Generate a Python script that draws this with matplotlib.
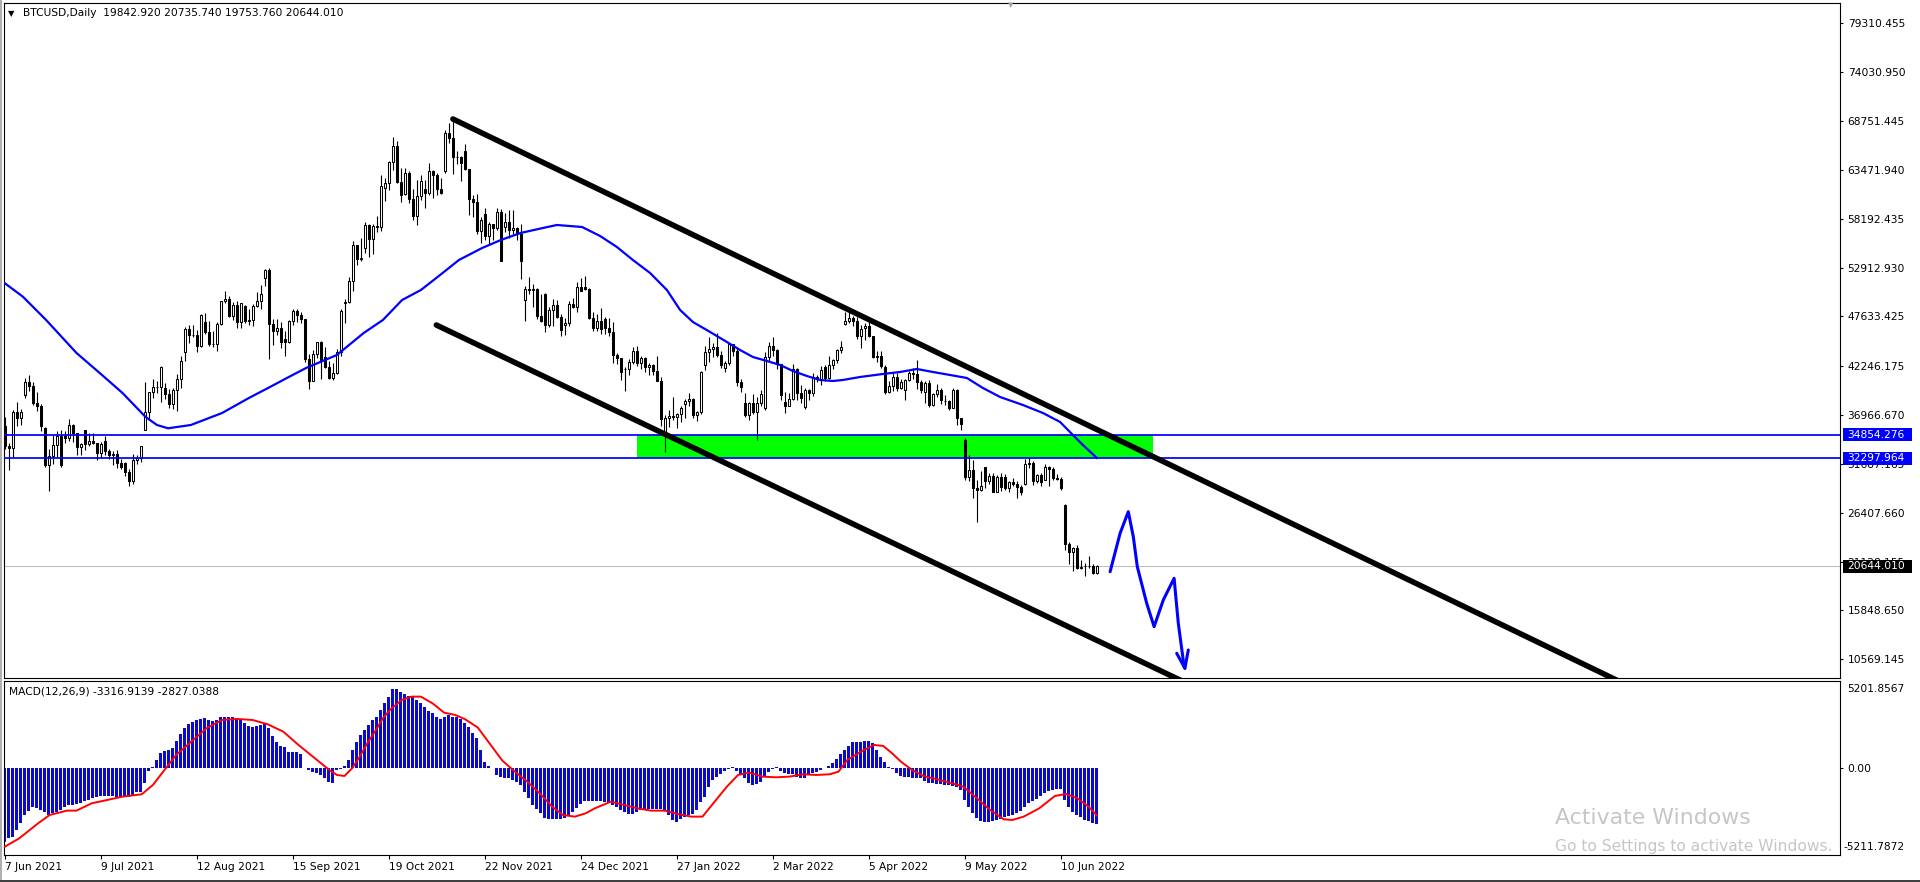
import numpy as np
import matplotlib
matplotlib.use("Agg")
import matplotlib.pyplot as plt
from matplotlib.patches import Rectangle

plt.rcParams['font.family'] = ['DejaVu Sans']

# ---------------- DATA (BTCUSD daily, weekday bars, 7 Jun 2021 .. 23 Jun 2022), prices in thousands
open_k = [
35.8,33.6,33.4,37.3,36.7, 39.1,40.5,40.1,38.3,38.0, 35.6,31.6,32.5,33.7,34.7, 34.7,34.5,35.9,35.0,33.5,
35.3,33.8,34.2,33.9,32.9, 34.2,33.1,32.7,32.8,31.8, 31.8,30.8,29.8,32.1,32.3, 35.4,37.3,39.5,40.0,40.0,
39.9,39.2,38.2,39.7,40.9, 43.8,46.3,45.6,45.6,44.4, 47.0,45.9,44.7,44.7,46.8, 49.3,49.5,47.7,48.9,47.0,
48.8,47.1,47.2,48.8,49.3, 51.8,52.7,46.8,46.1,46.4, 45.2,44.9,47.1,48.2,47.8, 47.3,43.0,40.7,43.6,44.9,
43.2,42.2,41.0,41.5,43.8, 49.1,49.2,51.5,55.4,53.8, 55.0,57.5,56.0,57.4,57.3, 61.5,62.0,64.3,66.0,62.2,
60.9,63.1,60.3,58.5,60.6, 61.4,61.0,63.3,62.9,61.4, 63.3,67.5,66.9,64.9,64.9, 65.5,63.6,60.3,60.0,56.9,
58.7,56.3,57.6,57.2,58.9, 57.3,57.8,57.0,57.2,56.5, 49.4,50.6,50.5,50.6,47.7, 50.1,46.7,48.3,48.9,47.6,
46.7,46.9,49.0,48.6,50.8, 50.8,50.6,47.5,46.4,47.1, 47.3,46.4,45.9,43.5,43.1, 41.9,41.9,42.7,43.9,42.6,
43.1,42.2,42.4,41.7,40.7, 35.1,36.7,36.9,36.8,37.1, 38.2,38.5,38.7,37.0,37.3, 42.4,43.8,44.1,44.3,43.5,
42.1,42.6,44.6,43.9,40.5, 38.3,37.0,38.3,37.3,38.3, 37.7,43.2,44.4,44.0,42.5, 38.4,38.0,38.7,41.9,39.4,
37.8,39.7,39.3,41.1,40.9, 42.2,41.0,42.4,42.9,44.0, 46.8,47.1,47.5,47.1,45.5, 46.4,46.6,45.5,43.2,43.4,
42.2,39.5,40.1,41.1,39.9, 39.7,40.8,41.5,41.4,40.5, 39.5,40.4,38.1,39.2,39.7, 38.5,38.5,37.7,39.7,36.6,
34.3,30.3,31.0,29.1,28.9, 31.3,29.8,30.4,28.7,30.3, 30.3,29.1,29.7,29.5,29.2, 29.5,31.7,31.8,29.8,30.5,
29.9,31.4,31.1,30.2,30.1, 27.3,23.0,22.2,22.6,20.4, 20.6,20.6,20.7,19.843]
high_k = [
36.8,34.0,37.5,38.4,37.6, 41.0,41.3,40.5,39.5,38.2, 35.7,33.3,34.8,35.2,35.4, 35.2,36.5,36.0,35.0,33.9,
35.3,35.0,35.0,33.9,34.1, 34.7,33.3,33.1,33.2,32.2, 31.9,31.1,32.8,32.6,33.6, 40.5,39.5,40.9,40.6,42.3,
40.4,39.8,39.9,41.4,43.3, 46.5,46.7,46.7,46.2,47.9, 48.0,47.1,46.0,47.0,49.3, 50.4,49.8,49.2,49.3,49.1,
48.9,48.4,49.0,50.3,51.0, 52.8,52.9,47.3,47.3,47.0, 46.0,47.2,48.4,48.4,48.1, 47.4,43.6,44.0,44.9,45.0,
44.3,42.8,42.6,44.1,48.4, 49.5,51.9,55.8,55.4,56.1, 57.8,57.6,57.6,58.5,62.9, 62.6,64.4,67.0,66.6,63.7,
63.7,63.3,61.4,62.4,62.9, 62.4,64.2,63.5,63.1,62.6, 67.8,68.5,69.0,65.5,65.0, 66.3,63.6,60.7,60.9,58.4,
59.3,57.8,57.6,59.3,59.2, 58.8,59.1,59.1,57.3,57.6, 50.9,51.9,51.1,50.7,50.0, 50.2,48.6,49.5,49.4,47.9,
47.5,49.3,49.6,51.3,51.8, 52.0,50.7,48.1,47.9,48.5, 47.6,47.5,47.0,43.7,43.1, 42.2,43.0,44.3,44.4,43.4,
43.2,42.6,42.5,43.4,41.1, 37.0,37.5,38.9,37.2,38.0, 38.7,39.3,38.8,37.4,41.7, 44.4,45.4,44.8,45.8,43.9,
42.8,44.7,44.6,44.2,40.9, 39.4,38.4,39.2,38.9,39.7, 43.8,44.9,45.4,44.1,42.5, 39.5,39.3,42.5,42.0,40.2,
39.9,39.8,41.5,41.3,42.3, 42.4,43.3,43.0,44.1,45.0, 48.1,48.2,47.7,47.6,46.7, 46.9,47.2,45.5,43.9,43.9,
42.4,40.7,41.5,41.5,40.9, 40.9,41.7,42.1,42.9,40.8, 40.6,40.8,39.4,40.3,39.9, 39.1,38.6,39.9,39.8,36.6,
34.5,32.6,32.1,30.0,30.9, 31.4,30.7,30.7,30.5,30.7, 30.6,29.8,30.2,29.8,29.4, 32.2,32.4,32.0,30.6,30.7,
31.7,31.5,31.3,30.6,30.3, 27.4,23.3,22.7,22.9,21.3, 21.0,21.7,20.9,20.736]
low_k = [
33.3,31.0,32.4,35.8,35.9, 38.8,39.6,38.1,37.4,35.2, 31.3,28.8,31.7,32.4,31.3, 33.9,34.2,34.1,32.7,32.7,
33.2,33.6,33.8,32.1,32.3, 32.7,32.2,31.6,31.2,31.1, 30.4,29.3,29.5,31.7,31.9, 35.3,36.4,38.8,39.3,38.4,
38.7,37.7,37.6,37.4,39.9, 42.8,44.8,45.4,43.8,44.3, 45.7,44.4,44.3,43.9,46.7, 49.1,47.6,47.2,46.4,46.4,
46.9,46.7,46.6,48.6,48.4, 50.9,43.0,44.5,45.6,44.2, 43.4,44.8,46.7,47.0,46.9, 42.7,39.8,40.6,43.1,40.9,
42.1,40.9,40.8,41.4,43.3, 46.9,49.1,50.4,53.2,53.6, 54.5,54.0,54.4,56.8,56.9, 60.1,61.3,63.5,62.1,60.0,
60.7,59.9,58.1,57.5,60.2, 59.4,60.7,60.4,60.7,60.9, 63.1,66.4,63.0,64.1,62.3, 63.5,58.6,58.4,56.5,55.6,
55.9,55.4,55.9,57.0,53.6, 56.8,56.1,56.5,55.9,51.7, 47.1,50.0,48.6,47.4,47.0, 45.9,46.5,46.6,47.5,45.5,
45.6,46.6,48.5,48.1,50.4, 50.5,47.3,46.1,46.1,45.7, 45.7,45.5,42.6,42.5,40.8, 39.6,41.3,42.5,42.3,41.9,
41.6,41.3,41.3,40.6,35.8, 33.0,35.7,36.4,35.6,36.2, 36.7,38.0,36.6,36.3,37.1, 41.8,42.7,43.2,43.2,42.0,
41.6,42.4,43.3,40.1,39.5, 36.8,36.4,37.1,34.3,38.0, 37.5,42.8,43.4,41.9,38.6, 37.2,37.9,38.6,38.6,38.3,
37.6,38.6,39.0,40.5,40.2, 40.6,40.9,41.9,42.6,43.7, 46.7,46.9,46.6,45.2,44.2, 45.1,45.4,43.1,42.7,42.1,
39.2,39.3,39.6,39.6,39.8, 38.6,40.6,40.9,39.8,39.3, 38.3,37.8,37.9,38.9,38.2, 38.1,37.5,37.7,35.9,35.3,
30.0,29.8,28.0,25.4,28.8, 29.1,29.5,28.7,28.7,28.8, 28.9,28.6,29.3,28.0,28.3, 29.4,31.2,29.4,29.6,29.3,
29.9,29.3,30.0,30.0,28.9, 22.4,20.9,20.1,20.3,20.3, 19.6,20.4,19.8,19.754]
close_k = [
33.6,33.4,37.3,36.7,37.3, 40.5,40.1,38.3,38.0,35.8, 31.6,32.5,33.7,34.7,31.6, 34.5,35.9,35.0,33.5,33.8,
33.8,34.2,33.9,32.9,33.8, 33.1,32.7,32.8,31.8,31.4, 30.8,29.8,32.1,32.3,33.6, 37.3,39.5,40.0,40.0,42.2,
39.2,38.2,39.7,40.9,42.8, 46.3,45.6,45.6,44.4,47.8, 45.9,44.7,44.7,46.8,49.3, 49.5,47.7,48.9,47.0,49.1,
47.1,47.2,48.8,49.3,50.0, 52.7,46.8,46.1,46.4,44.9, 44.9,47.1,48.2,47.8,47.3, 43.0,40.7,43.6,44.9,42.8,
42.2,41.0,41.5,43.8,48.2, 49.2,51.5,55.4,53.8,53.9, 57.5,56.0,57.4,57.3,61.7, 62.0,64.3,66.0,62.2,60.7,
63.1,60.3,58.5,60.6,62.3, 61.0,63.3,62.9,61.4,61.0, 67.5,66.9,64.9,64.9,64.2, 63.6,60.3,60.0,56.9,58.1,
56.3,57.6,57.2,58.9,53.6, 57.8,57.0,57.2,56.5,53.6, 50.6,50.5,50.6,47.7,47.1, 46.7,48.3,48.9,47.6,46.2,
46.9,49.0,48.6,50.8,50.4, 50.6,47.5,46.4,47.1,46.3, 46.4,45.9,43.5,43.1,41.6, 41.9,42.7,43.9,42.6,43.1,
42.2,42.4,41.7,40.7,36.5, 36.7,36.9,36.8,37.1,37.7, 38.5,38.7,37.0,37.3,41.6, 43.8,44.1,44.3,43.5,42.4,
42.6,44.6,43.9,40.5,40.0, 37.0,38.3,37.3,38.3,39.2, 43.2,44.4,44.0,42.5,39.1, 38.0,38.7,41.9,39.4,38.8,
39.7,39.3,41.1,40.9,41.8, 41.0,42.4,42.9,44.0,44.3, 47.1,47.5,47.1,45.5,46.3, 46.6,45.5,43.2,43.4,42.3,
39.5,40.1,41.1,39.9,40.5, 40.8,41.5,41.4,40.5,39.7, 40.4,38.1,39.2,39.7,38.6, 38.5,37.7,39.7,36.6,36.0,
30.3,31.0,29.1,28.9,29.3, 29.8,30.4,28.7,30.3,29.2, 29.1,29.7,29.5,29.2,28.6, 31.7,31.8,29.8,30.5,29.7,
31.4,31.1,30.2,30.1,29.1, 23.0,22.2,22.6,20.4,20.5, 20.6,20.7,19.9,20.644]

# moving average (blue): bar index -> price
ma_idx = [0, 4.5, 10.3, 17.9, 23.7, 29.4, 35.1, 38, 40.8, 46.5, 54.3, 61, 65.8, 70.5, 75.3, 83, 89.7,
          94.5, 99.3, 104, 108.8, 113.5, 119.3, 124, 128.9, 134.5, 138, 144.3, 148.8, 153, 157, 161.3,
          165.5, 168.8, 172, 176.3, 180.5, 183.8, 187, 190.5, 193.8, 197, 200.5, 203.8, 207, 209.5,
          213.8, 219.5, 223.8, 228, 232, 236.3, 240.5, 244.5, 248.8, 254.5, 259.5, 263.8, 267, 269.5, 273]
ma_val = [51209, 49761, 47243, 43676, 41515, 39353, 36791, 35894, 35538, 35894, 37191, 38812, 39893,
          40974, 42055, 43460, 45838, 47243, 49404, 50485, 52106, 53727, 55024, 55889, 56645, 57186,
          57510, 57294, 56321, 55132, 53727, 52322, 50485, 48324, 47026, 45946, 44865, 44000, 43244,
          42811, 42379, 41730, 41190, 40758, 40650, 40758, 41082, 41406, 41622, 41947, 41622, 41298,
          40974, 39893, 38920, 38056, 37191, 36218, 34813, 33732, 32328]

# MACD histogram (one value per bar)
macd_hist = [
-4400,-4200,-4100,-3700,-3300,-2800,-2550,-2350,-2380,-2480,
-2650,-2800,-2700,-2600,-2500,-2350,-2220,-2180,-2130,-2080,
-1980,-1880,-1780,-1720,-1680,-1660,-1660,-1660,-1700,-1720,
-1700,-1740,-1600,-1450,-1400,-860,-150,100,500,940,
1040,1100,1200,1650,2050,2400,2650,2800,2900,2960,
3000,2880,2860,2920,3050,3100,3100,3060,3000,2900,
2700,2520,2500,2520,2580,2700,2400,1950,1600,1350,
1300,1000,980,960,850,40,-100,-200,-300,-400,
-600,-800,-900,-120,-60,150,500,1100,1600,2000,
2300,2600,2900,3100,3500,3900,4300,4740,4740,4550,
4450,4350,4250,4100,3900,3680,3450,3320,3100,2950,
3050,3200,3100,3050,2950,2700,2450,2100,1800,1100,
400,150,30,-400,-540,-560,-600,-680,-800,-1000,
-1450,-1800,-2200,-2450,-2700,-3000,-3060,-3070,-3070,-3060,
-3000,-2850,-2600,-2400,-2150,-1980,-1940,-1940,-1950,-1960,
-2000,-2080,-2200,-2350,-2480,-2650,-2740,-2740,-2620,-2500,
-2460,-2460,-2460,-2460,-2460,-2500,-2800,-3100,-3200,-3050,
-2900,-2800,-2740,-2500,-2000,-1700,-1100,-700,-500,-340,
-150,-50,100,-150,-400,-600,-880,-1000,-950,-800,
-550,-250,-60,50,-150,-300,-340,-340,-500,-560,
-600,-400,-300,-200,-120,0,150,300,550,850,
1100,1350,1550,1600,1600,1660,1620,1500,1100,650,
350,100,-50,-300,-460,-500,-530,-570,-600,-600,
-750,-870,-900,-930,-960,-1000,-1000,-1050,-1100,-1300,
-1900,-2300,-2700,-3000,-3150,-3200,-3200,-3150,-3100,-3060,
-2920,-2880,-2800,-2700,-2580,-2350,-2060,-1950,-1850,-1650,
-1500,-1350,-1280,-1240,-1220,-1900,-2300,-2600,-2800,-2950,
-3100,-3180,-3300,-3317]

# MACD signal line (red)
sig_idx = [0, 3.6, 8.3, 11.2, 15.5, 17.9, 21.7, 25.6, 29.4, 34.2, 37, 39.9, 42.8, 46.6, 50.4, 54.3, 58.1,
           61.9, 65.7, 69.6, 73.4, 77.2, 81.1, 83, 84.9, 86.8, 88.7, 90.6, 92.5, 94.5, 96.4, 99.2, 101.6,
           104, 106.9, 109.8, 112.6, 115, 118.2, 121.3, 124.4, 127.5, 130.6, 133.7, 136.8, 139.5, 142.5,
           145.2, 147.5, 151.5, 154.8, 158.2, 161.5, 164.9, 168.2, 171.6, 174.4, 177.1, 180.5, 183.3,
           186.1, 189.4, 192.8, 196.1, 199.5, 202.8, 206.2, 208.4, 210.6, 214, 217.3, 219.6, 221.8, 224,
           226.8, 229.6, 233, 236.3, 239.6, 243, 246.3, 249.7, 251.9, 254.7, 258.6, 262.5, 265.3, 268.1,
           270.9, 273]
sig_val = [-4700, -4200, -3300, -2800, -2540, -2540, -2100, -1900, -1700, -1560, -1000, -100, 800, 1600,
           2400, 2900, 2960, 2900, 2640, 2200, 1400, 660, -100, -400, -460, 0, 700, 1500, 2200, 3000,
           3540, 4100, 4300, 4300, 3900, 3340, 3200, 2950, 2450, 1450, 450, -200, -800, -1500, -2300,
           -2800, -2900, -2700, -2400, -2000, -2200, -2400, -2540, -2540, -2740, -2900, -2900, -2100,
           -1100, -400, -260, -500, -540, -500, -360, -400, -360, -200, 500, 1000, 1400, 1340, 900, 400,
           -100, -460, -660, -860, -1100, -1800, -2500, -3060, -3100, -2900, -2400, -1660, -1540, -1800,
           -2300, -2827]

# drawn objects
res_levels = [34854.276, 32297.964]
bid_price = 20644.010
zone_idx = [157.95, 287.0]
upper_channel_idx = [112.0, 405.0]
upper_channel_val = [68967, 7888]
lower_channel_idx = [107.85, 300.0]
lower_channel_val = [46702, 7042]
arrow_idx = [276.3, 278.8, 280.85, 282.1, 283.1, 285.45, 287.3, 289.6, 292.3, 293.35, 294.8, 295.0]
arrow_val = [20039, 24189, 26524, 23822, 20579, 16624, 14095, 16980, 19326, 14462, 9771, 9598]
arrow_head_idx = [292.95, 295.0, 295.85]
arrow_head_val = [11220, 9598, 11576]

price_ticks = [79310.455, 74030.950, 68751.445, 63471.940, 58192.435, 52912.930, 47633.425,
               42246.175, 36966.670, 31687.165, 26407.660, 21128.155, 15848.650, 10569.145]
date_pos = [0, 24, 48, 72, 96, 120, 144, 168, 192, 216, 240, 264]
date_labels = ["7 Jun 2021", "9 Jul 2021", "12 Aug 2021", "15 Sep 2021", "19 Oct 2021", "22 Nov 2021",
               "24 Dec 2021", "27 Jan 2022", "2 Mar 2022", "5 Apr 2022", "9 May 2022", "10 Jun 2022"]

# ---------------- FIGURE
W, H = 1920, 882
fig = plt.figure(figsize=(W / 100, H / 100), dpi=100)
fig.patch.set_facecolor('white')


def fbox(x0, y0, x1, y1):
    return [x0 / W, 1 - y1 / H, (x1 - x0) / W, (y1 - y0) / H]


ax = fig.add_axes(fbox(4, 3, 1840, 678))
axm = fig.add_axes(fbox(4, 681, 1840, 855))
for a in (ax, axm):
    a.set_xlim(-0.225, 458.775)
    for s in a.spines.values():
        s.set_linewidth(0.8)
        s.set_color('black')
ax.set_ylim(8547.9, 81504.5)
axm.set_ylim(-5202, 5238)

FS = 7.7
TXT = '#000000'

# price axis
ax.yaxis.tick_right()
ax.set_yticks(price_ticks)
ax.set_yticklabels([f"{v:.3f}" for v in price_ticks])
ax.tick_params(axis='y', direction='out', length=2.5, width=0.8, pad=3, labelsize=FS,
               right=True, left=False, colors=TXT)
ax.tick_params(axis='x', bottom=False, labelbottom=False)

# candles
o = np.array(open_k) * 1000
h = np.array(high_k) * 1000
l = np.array(low_k) * 1000
c = np.array(close_k) * 1000
idx = np.arange(len(c))
up = c >= o
ax.vlines(idx, l, h, color='black', linewidth=0.8, zorder=3)
bb = np.minimum(o, c)
bh = np.abs(c - o)
ax.bar(idx[up], bh[up], bottom=bb[up], width=0.55, facecolor='white', edgecolor='black',
       linewidth=0.75, zorder=4)
ax.bar(idx[~up], bh[~up], bottom=bb[~up], width=0.55, facecolor='black', edgecolor='black',
       linewidth=0.75, zorder=4)

# green zone and levels
ax.add_patch(Rectangle((zone_idx[0], res_levels[1]), zone_idx[1] - zone_idx[0],
                       res_levels[0] - res_levels[1], facecolor='#00ff00', edgecolor='none', zorder=1))
for lv in res_levels:
    ax.axhline(lv, color='#0000ff', linewidth=1.25, zorder=5)
ax.axhline(bid_price, color='#c0c0c0', linewidth=0.8, zorder=2)

# moving average
ax.plot(ma_idx, ma_val, color='#0000ff', linewidth=1.6, zorder=5, solid_joinstyle='round')

# channel
ax.plot(upper_channel_idx, upper_channel_val, color='black', linewidth=4.0, zorder=6,
        solid_capstyle='round')
ax.plot(lower_channel_idx, lower_channel_val, color='black', linewidth=4.0, zorder=6,
        solid_capstyle='round')

# hand drawn projection
ax.plot(arrow_idx, arrow_val, color='#0000ff', linewidth=2.2, zorder=7,
        solid_joinstyle='round', solid_capstyle='round')
ax.plot(arrow_head_idx, arrow_head_val, color='#0000ff', linewidth=2.2, zorder=7,
        solid_joinstyle='round', solid_capstyle='round')

# MACD panel
axm.bar(np.arange(len(macd_hist)), macd_hist, width=0.75, color='#0a0ad2', linewidth=0, zorder=2)
axm.plot(sig_idx, sig_val, color='#ff0000', linewidth=1.4, zorder=3)
axm.yaxis.tick_right()
axm.set_yticks([0])
axm.set_yticklabels(['0.00'])
axm.tick_params(axis='y', direction='out', length=2.5, width=0.8, pad=3, labelsize=FS,
                right=True, left=False)
axm.set_xticks(date_pos)
axm.set_xticklabels(date_labels, ha='left')
axm.tick_params(axis='x', direction='out', length=3, width=0.8, pad=2, labelsize=FS)

fig.canvas.draw()


def ypix(axis, v):
    return axis.transData.transform((0, v))[1]


def price_box(v, text, fc):
    yd = ypix(ax, v)
    fig.add_artist(Rectangle((1843 / W, (yd - 6.5) / H), 69 / W, 13 / H, transform=fig.transFigure,
                             facecolor=fc, edgecolor='none', zorder=10))
    fig.text(1847 / W, yd / H, text, color='white', fontsize=FS, va='center', ha='left', zorder=11)


price_box(res_levels[0], f"{res_levels[0]:.3f}", '#0000ff')
price_box(res_levels[1], f"{res_levels[1]:.3f}", '#0000ff')
price_box(bid_price, f"{bid_price:.3f}", '#000000')

fig.text(1847 / W, 1 - 689 / H, '5201.8567', fontsize=FS, va='center', ha='left')
fig.text(1843 / W, 1 - 847 / H, '-5211.7872', fontsize=FS, va='center', ha='left')

# header texts
fig.text(8 / W, 1 - 13.5 / H, '\u25bc', fontsize=6, va='center', ha='left')
fig.text(23 / W, 1 - 13.5 / H, 'BTCUSD,Daily  19842.920 20735.740 19753.760 20644.010',
         fontsize=FS, va='center', ha='left')
fig.text(9 / W, 1 - 691.7 / H, 'MACD(12,26,9) -3316.9139 -2827.0388', fontsize=FS,
         va='center', ha='left')
fig.text(1011 / W, 1 - 5 / H, '\u25bc', fontsize=5, va='center', ha='center', color='#a0a0a0')

# window frame bits
fig.add_artist(Rectangle((0, 0), 2 / W, 1, transform=fig.transFigure, facecolor='#b0b0b0',
                         edgecolor='none'))
fig.add_artist(Rectangle((0, 0), 1, 2 / H, transform=fig.transFigure, facecolor='#404040',
                         edgecolor='none'))

# OS watermark visible in the screenshot
fig.text(1555 / W, 1 - 818 / H, 'Activate Windows', fontsize=15.8, color='#c6c6c6',
         va='center', ha='left')
fig.text(1555 / W, 1 - 847 / H, 'Go to Settings to activate Windows.', fontsize=11.2,
         color='#c6c6c6', va='center', ha='left')

fig.savefig('out.png', dpi=100, facecolor='white')
